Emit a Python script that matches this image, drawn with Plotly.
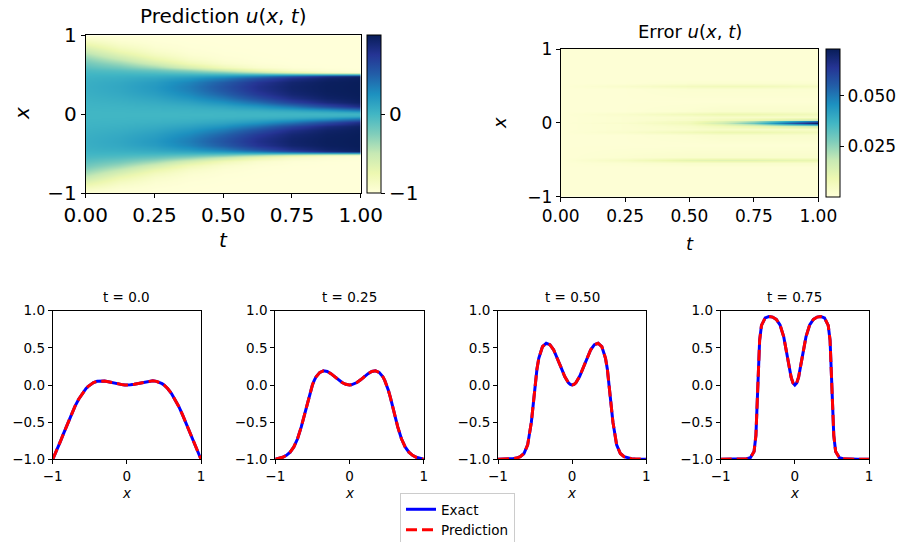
import numpy as np
import plotly.graph_objects as go

W, H = 909, 542

# ---------------- data ----------------
x_grid = [-1, -0.95, -0.9, -0.85, -0.8, -0.75, -0.7, -0.65, -0.6, -0.55, -0.525, -0.5, -0.475, -0.45,
          -0.4, -0.35, -0.3, -0.25, -0.2, -0.15, -0.1, -0.05, -0.025, 0, 0.025, 0.05, 0.1, 0.15, 0.2,
          0.25, 0.3, 0.35, 0.4, 0.45, 0.475, 0.5, 0.525, 0.55, 0.6, 0.65, 0.7, 0.75, 0.8, 0.85, 0.9, 0.95, 1]
t_grid = [0.0, 0.125, 0.25, 0.375, 0.5, 0.625, 0.75, 0.875, 1.0]

u_t000 = [-1, -0.891, -0.770, -0.644, -0.518, -0.398, -0.288, -0.192, -0.111, -0.047, -0.022, 0, 0.018, 0.032, 0.049, 0.056, 0.053, 0.044, 0.032, 0.020, 0.010, 0.002, 0.001, 0, 0.001, 0.002, 0.010, 0.020, 0.032, 0.044, 0.053, 0.056, 0.049, 0.032, 0.018, 0, -0.022, -0.047, -0.111, -0.192, -0.288, -0.398, -0.518, -0.644, -0.770, -0.891, -1]
u_t125 = [-1, -0.965, -0.914, -0.844, -0.749, -0.629, -0.490, -0.343, -0.205, -0.088, -0.040, 0, 0.033, 0.059, 0.092, 0.103, 0.098, 0.082, 0.060, 0.037, 0.018, 0.005, 0.001, 0, 0.001, 0.005, 0.018, 0.037, 0.060, 0.082, 0.098, 0.103, 0.092, 0.059, 0.033, 0, -0.040, -0.088, -0.205, -0.343, -0.490, -0.629, -0.749, -0.844, -0.914, -0.965, -1]
u_t250 = [-1, -0.990, -0.973, -0.947, -0.904, -0.834, -0.724, -0.564, -0.364, -0.163, -0.075, 0, 0.062, 0.110, 0.170, 0.191, 0.182, 0.153, 0.112, 0.070, 0.033, 0.009, 0.002, 0, 0.002, 0.009, 0.033, 0.070, 0.112, 0.153, 0.182, 0.191, 0.170, 0.110, 0.062, 0, -0.075, -0.163, -0.364, -0.564, -0.724, -0.834, -0.904, -0.947, -0.973, -0.990, -1]
u_t375 = [-1, -0.997, -0.992, -0.984, -0.969, -0.943, -0.891, -0.787, -0.590, -0.295, -0.140, 0, 0.115, 0.202, 0.307, 0.341, 0.327, 0.277, 0.207, 0.130, 0.062, 0.016, 0.004, 0, 0.004, 0.016, 0.062, 0.130, 0.207, 0.277, 0.327, 0.341, 0.307, 0.202, 0.115, 0, -0.140, -0.295, -0.590, -0.787, -0.891, -0.943, -0.969, -0.984, -0.992, -0.997, -1]
u_t500 = [-1, -0.999, -0.998, -0.995, -0.991, -0.983, -0.965, -0.922, -0.806, -0.500, -0.255, 0, 0.211, 0.360, 0.516, 0.562, 0.542, 0.474, 0.367, 0.237, 0.115, 0.030, 0.008, 0, 0.008, 0.030, 0.115, 0.237, 0.367, 0.474, 0.542, 0.562, 0.516, 0.360, 0.211, 0, -0.255, -0.500, -0.806, -0.922, -0.965, -0.983, -0.991, -0.995, -0.998, -0.999, -1]
u_t625 = [-1, -1, -0.999, -0.999, -0.997, -0.995, -0.990, -0.976, -0.931, -0.733, -0.442, 0, 0.374, 0.585, 0.748, 0.785, 0.770, 0.710, 0.593, 0.415, 0.212, 0.056, 0.014, 0, 0.014, 0.056, 0.212, 0.415, 0.593, 0.710, 0.770, 0.785, 0.748, 0.585, 0.374, 0, -0.442, -0.733, -0.931, -0.976, -0.990, -0.995, -0.997, -0.999, -0.999, -1, -1]
u_t750 = [-1, -1, -1, -1, -0.999, -0.999, -0.997, -0.993, -0.979, -0.896, -0.677, 0, 0.602, 0.803, 0.903, 0.921, 0.914, 0.883, 0.809, 0.649, 0.375, 0.104, 0.026, 0, 0.026, 0.104, 0.375, 0.649, 0.809, 0.883, 0.914, 0.921, 0.903, 0.803, 0.602, 0, -0.677, -0.896, -0.979, -0.993, -0.997, -0.999, -0.999, -1, -1, -1, -1]
u_t875 = [-1, -1, -1, -1, -1, -1, -0.999, -0.998, -0.994, -0.966, -0.864, 0, 0.815, 0.929, 0.969, 0.975, 0.973, 0.962, 0.932, 0.847, 0.603, 0.193, 0.049, 0, 0.049, 0.193, 0.603, 0.847, 0.932, 0.962, 0.973, 0.975, 0.969, 0.929, 0.815, 0, -0.864, -0.966, -0.994, -0.998, -0.999, -1, -1, -1, -1, -1, -1]
u_t1000 = [-1, -1, -1, -1, -1, -1, -1, -1, -0.999, -0.990, -0.955, 0, 0.935, 0.978, 0.991, 0.993, 0.992, 0.989, 0.979, 0.948, 0.816, 0.344, 0.092, 0, 0.092, 0.344, 0.816, 0.948, 0.979, 0.989, 0.992, 0.993, 0.991, 0.978, 0.935, 0, -0.955, -0.990, -0.999, -1, -1, -1, -1, -1, -1, -1, -1]

pred_rows = [u_t000, u_t125, u_t250, u_t375, u_t500, u_t625, u_t750, u_t875, u_t1000]

err_x = [-1.0, -0.6, -0.54, -0.5, -0.46, -0.3, -0.16, -0.12, -0.08, -0.04, -0.02, 0.0,
         0.02, 0.04, 0.08, 0.12, 0.16, 0.3, 0.46, 0.5, 0.54, 0.6, 1.0]
err_t = [0.0, 0.25, 0.5, 0.625, 0.75, 0.875, 1.0]
e_t000 = [0.001, 0.001, 0.001, 0.001, 0.001, 0.001, 0.001, 0.001, 0.001, 0.001, 0.001, 0.001, 0.001, 0.001, 0.001, 0.001, 0.001, 0.001, 0.001, 0.001, 0.001, 0.001, 0.001]
e_t250 = [0.001, 0.001, 0.002, 0.005, 0.002, 0.001, 0.001, 0.003, 0.002, 0.002, 0.002, 0.003, 0.002, 0.002, 0.002, 0.003, 0.001, 0.001, 0.001, 0.003, 0.001, 0.001, 0.001]
e_t500 = [0.001, 0.001, 0.003, 0.011, 0.003, 0.001, 0.002, 0.007, 0.003, 0.004, 0.006, 0.007, 0.006, 0.004, 0.003, 0.007, 0.002, 0.001, 0.002, 0.006, 0.002, 0.001, 0.001]
e_t625 = [0.001, 0.001, 0.003, 0.012, 0.003, 0.001, 0.003, 0.009, 0.004, 0.007, 0.012, 0.016, 0.012, 0.007, 0.004, 0.009, 0.003, 0.001, 0.002, 0.007, 0.002, 0.001, 0.001]
e_t750 = [0.001, 0.001, 0.003, 0.012, 0.003, 0.001, 0.003, 0.009, 0.004, 0.010, 0.022, 0.030, 0.022, 0.010, 0.004, 0.009, 0.003, 0.001, 0.002, 0.007, 0.002, 0.001, 0.001]
e_t875 = [0.001, 0.001, 0.003, 0.011, 0.003, 0.001, 0.003, 0.008, 0.004, 0.014, 0.038, 0.052, 0.038, 0.014, 0.004, 0.008, 0.003, 0.001, 0.002, 0.006, 0.002, 0.001, 0.001]
e_t1000 = [0.001, 0.001, 0.003, 0.010, 0.003, 0.001, 0.003, 0.007, 0.004, 0.018, 0.052, 0.073, 0.052, 0.018, 0.004, 0.007, 0.003, 0.001, 0.002, 0.005, 0.002, 0.001, 0.001]
err_rows = [e_t000, e_t250, e_t500, e_t625, e_t750, e_t875, e_t1000]

profile_titles = ["t = 0.0", "t = 0.25", "t = 0.50", "t = 0.75"]
exact_profiles = [u_t000, u_t250, u_t500, u_t750]
pred_profiles = [u_t000, u_t250, u_t500, u_t750]

for r in pred_rows:
    assert len(r) == len(x_grid)
for r in err_rows:
    assert len(r) == len(err_x)

# ---------------- styling ----------------
FONT = "DejaVu Sans"
ylgnbu = [[0.0, '#ffffd9'], [0.125, '#edf8b1'], [0.25, '#c7e9b4'], [0.375, '#7fcdbb'],
          [0.5, '#41b6c4'], [0.625, '#1d91c0'], [0.75, '#225ea8'], [0.875, '#253494'], [1.0, '#081d58']]


def fx(px):
    return px / W


def fy(py):
    return 1 - py / H


def ax_style(size, **kw):
    d = dict(showline=True, linecolor='black', linewidth=1, mirror=True, ticks='outside',
             ticklen=4, tickwidth=1, tickcolor='black', showgrid=False, zeroline=False,
             tickfont=dict(family=FONT, size=size, color='black'))
    d.update(kw)
    return d


fig = go.Figure()

# top-left prediction heatmap
fig.add_trace(go.Heatmap(
    x=t_grid, y=x_grid, z=np.array(pred_rows).T.tolist(), colorscale=ylgnbu, zmin=-1, zmax=1,
    zsmooth='best', xaxis='x', yaxis='y', hoverinfo='skip',
    colorbar=dict(x=fx(367.3), xanchor='left', y=fy(193), yanchor='bottom', len=(193 - 35.5) / H,
                  lenmode='fraction', thickness=14.4, thicknessmode='pixels', xpad=0, ypad=0,
                  outlinewidth=1, outlinecolor='black', tickvals=[-1, 0], ticktext=['\u22121', '0'],
                  ticks='outside', ticklen=4, tickcolor='black',
                  tickfont=dict(family=FONT, size=20, color='black'))))

# top-right error heatmap
fig.add_trace(go.Heatmap(
    x=err_t, y=err_x, z=np.array(err_rows).T.tolist(), colorscale=ylgnbu, zmin=0, zmax=0.0732,
    zsmooth='best', xaxis='x2', yaxis='y2', hoverinfo='skip',
    colorbar=dict(x=fx(825.7), xanchor='left', y=fy(197), yanchor='bottom', len=(197 - 49) / H,
                  lenmode='fraction', thickness=14.3, thicknessmode='pixels', xpad=0, ypad=0,
                  outlinewidth=1, outlinecolor='black', tickvals=[0.025, 0.05], ticktext=['0.025', '0.050'],
                  ticks='outside', ticklen=4, tickcolor='black',
                  tickfont=dict(family=FONT, size=17, color='black'))))

# bottom profiles
bottom_x = [(52.7, 201.0), (275.3, 423.7), (498.0, 646.3), (720.7, 869.0)]
for i in range(4):
    xa = 'x%d' % (i + 3)
    ya = 'y%d' % (i + 3)
    fig.add_trace(go.Scatter(x=x_grid, y=exact_profiles[i], mode='lines', name='Exact',
                             line=dict(color='#0000ff', width=3), xaxis=xa, yaxis=ya,
                             showlegend=(i == 0), hoverinfo='skip'))
    fig.add_trace(go.Scatter(x=x_grid, y=pred_profiles[i], mode='lines', name='Prediction',
                             line=dict(color='#ff0000', width=3, dash='11px,5px'), xaxis=xa, yaxis=ya,
                             showlegend=(i == 0), hoverinfo='skip'))

layout = dict(
    width=W, height=H, margin=dict(l=0, r=0, t=0, b=0, autoexpand=False),
    paper_bgcolor='white', plot_bgcolor='white',
    font=dict(family=FONT, color='black'),
    xaxis=ax_style(20, domain=[fx(85.7), fx(360.7)], range=[0, 1], anchor='y',
                   tickvals=[0, 0.25, 0.5, 0.75, 1], ticktext=['0.00', '0.25', '0.50', '0.75', '1.00']),
    yaxis=ax_style(20, domain=[fy(193), fy(35.3)], range=[-1, 1], anchor='x',
                   tickvals=[-1, 0, 1], ticktext=['\u22121', '0', '1']),
    xaxis2=ax_style(17, domain=[fx(560.7), fx(818.3)], range=[0, 1], anchor='y2',
                    tickvals=[0, 0.25, 0.5, 0.75, 1], ticktext=['0.00', '0.25', '0.50', '0.75', '1.00']),
    yaxis2=ax_style(17, domain=[fy(196.7), fy(49)], range=[-1, 1], anchor='x2',
                    tickvals=[-1, 0, 1], ticktext=['\u22121', '0', '1']),
    legend=dict(x=fx(400), y=fy(493), xanchor='left', yanchor='top', bordercolor='#cccccc',
                borderwidth=1, bgcolor='white', itemwidth=30, tracegroupgap=0,
                font=dict(family=FONT, size=13.5, color='black')),
)
for i, (l, r) in enumerate(bottom_x):
    layout['xaxis%d' % (i + 3)] = ax_style(13.5, domain=[fx(l), fx(r)], range=[-1, 1], anchor='y%d' % (i + 3),
                                           tickvals=[-1, 0, 1], ticktext=['\u22121', '0', '1'])
    layout['yaxis%d' % (i + 3)] = ax_style(13.5, domain=[fy(459.3), fy(310.7)], range=[-1, 1],
                                           anchor='x%d' % (i + 3), tickvals=[-1, -0.5, 0, 0.5, 1],
                                           ticktext=['\u22121.0', '\u22120.5', '0.0', '0.5', '1.0'])
fig.update_layout(**layout)

ann = []


def add_text(text, px, py, size, angle=0):
    ann.append(dict(text=text, x=fx(px), y=fy(py), xref='paper', yref='paper', showarrow=False,
                    xanchor='center', yanchor='middle', textangle=angle,
                    font=dict(family=FONT, size=size, color='black')))


add_text('Prediction <i>u</i>(<i>x</i>, <i>t</i>)', 223.2, 16, 20)
add_text('<i>t</i>', 223.2, 240, 20)
add_text('<i>x</i>', 22, 114, 20, -90)
add_text('Error <i>u</i>(<i>x</i>, <i>t</i>)', 689.5, 31, 18)
add_text('<i>t</i>', 689.5, 243, 18)
add_text('<i>x</i>', 499, 123, 18, -90)
for i, (l, r) in enumerate(bottom_x):
    add_text(profile_titles[i], (l + r) / 2, 297, 13.5)
    add_text('<i>x</i>', (l + r) / 2, 493, 13.5)
fig.update_layout(annotations=ann)

fig.write_html("out.html", config={'displayModeBar': False},
               post_script="document.body.style.margin='0px';document.body.style.overflow='hidden';")
